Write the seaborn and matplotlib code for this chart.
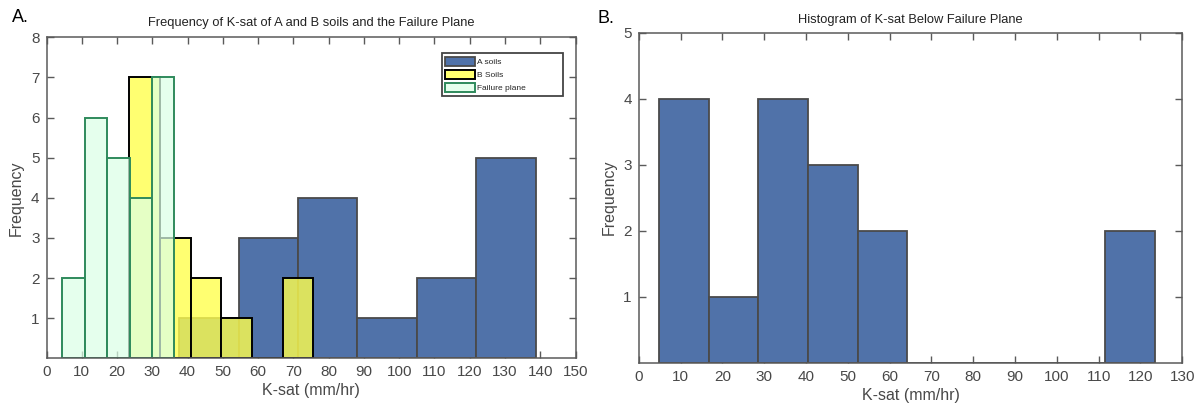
import numpy as np
import pandas as pd
import matplotlib
matplotlib.use("Agg")
import matplotlib.pyplot as plt
import seaborn as sns
from matplotlib.patches import Patch

# ---------------- data ----------------
# Panel A: bin edges (mm/hr) and counts
a_soil_edges = [37.6, 54.45, 71.3, 88.15, 105.0, 121.85, 138.7]
a_soil_counts = [1, 3, 4, 1, 2, 5]
b_soil_edges = [23.5, 32.2, 40.9, 49.6, 58.3, 67.0, 75.7]
b_soil_counts = [7, 3, 2, 1, 0, 2]
fp_edges = [4.5, 10.85, 17.2, 23.55, 29.9, 36.25]
fp_counts = [2, 6, 5, 4, 7]
# Panel B
below_edges = [4.93, 16.78, 28.63, 40.48, 52.33, 64.18, 76.03, 87.88, 99.73, 111.58, 123.43]
below_counts = [4, 1, 4, 3, 2, 0, 0, 0, 0, 2]

series_labels = ["A soils", "B Soils", "Failure plane"]
xticks_a = list(range(0, 151, 10))
yticks_a = list(range(1, 9))
xticks_b = list(range(0, 131, 10))
yticks_b = list(range(1, 6))

# ---------------- style ----------------
sns.set_theme(style="ticks")
plt.rcParams["font.family"] = ["Liberation Sans", "DejaVu Sans"]

BLUE = "#5072a9"
BLUE_EDGE = "#4a4a4a"
YELLOW = (1.0, 1.0, 0.3, 0.8)
GREEN_FACE = (0.86, 1.0, 0.90, 0.72)
GREEN_EDGE = "#2f8a5c"
AX_COL = "#5a5a5a"
TXT_COL = "#484848"


def centers(edges):
    e = np.asarray(edges)
    return (e[:-1] + e[1:]) / 2


def style_axes(ax, xticks, yticks, xmax, ymax):
    ax.set_xlim(0, xmax)
    ax.set_ylim(0, ymax)
    ax.set_xticks(xticks)
    ax.set_yticks(yticks)
    for s in ax.spines.values():
        s.set_visible(True)
        s.set_color(AX_COL)
        s.set_linewidth(1.1)
    ax.tick_params(direction="in", length=5, width=1.0, color=AX_COL,
                   labelcolor=TXT_COL, labelsize=11,
                   top=True, right=True, pad=5)
    ax.set_xlabel("K-sat (mm/hr)", fontsize=11.5, color=TXT_COL, labelpad=3)
    ax.set_ylabel("Frequency", fontsize=11.5, color=TXT_COL, labelpad=5)


fig = plt.figure(figsize=(12.02, 4.08), dpi=100)
ax1 = fig.add_axes([0.0387, 0.1218, 0.4401, 0.7868])
ax2 = fig.add_axes([0.5314, 0.1108, 0.4522, 0.8091])

# Panel A
sns.histplot(x=centers(a_soil_edges), weights=a_soil_counts, bins=a_soil_edges,
             ax=ax1, facecolor=BLUE, edgecolor=BLUE_EDGE, linewidth=1.3)
sns.histplot(x=centers(b_soil_edges), weights=b_soil_counts, bins=b_soil_edges,
             ax=ax1, facecolor=YELLOW, edgecolor="black", linewidth=1.4)
sns.histplot(x=centers(fp_edges), weights=fp_counts, bins=fp_edges,
             ax=ax1, facecolor=GREEN_FACE, edgecolor=GREEN_EDGE, linewidth=1.4)
style_axes(ax1, xticks_a, yticks_a, 150, 8)
ax1.set_title("Frequency of K-sat of A and B soils and the Failure Plane",
              fontsize=9.3, color="#222222", pad=8)

handles = [Patch(facecolor=BLUE, edgecolor=BLUE_EDGE, linewidth=1.3),
           Patch(facecolor=(1.0, 1.0, 0.44), edgecolor="black", linewidth=1.4),
           Patch(facecolor=(0.9, 1.0, 0.93), edgecolor=GREEN_EDGE, linewidth=1.4)]
leg = ax1.legend(handles, series_labels, loc="upper left",
                 bbox_to_anchor=(0.747, 0.95, 0.230, 0.0), mode="expand",
                 fontsize=6.0, frameon=True,
                 fancybox=False, handlelength=3.5, handleheight=1.3,
                 handletextpad=0.25, borderpad=0.45, labelspacing=0.42,
                 borderaxespad=0)
leg.get_frame().set_edgecolor("#444444")
leg.get_frame().set_linewidth(1.3)
leg.get_frame().set_alpha(1)

# Panel B
sns.histplot(x=centers(below_edges), weights=below_counts, bins=below_edges,
             ax=ax2, facecolor=BLUE, edgecolor=BLUE_EDGE, linewidth=1.3)
style_axes(ax2, xticks_b, yticks_b, 130, 5)
ax2.set_title("Histogram of K-sat Below Failure Plane",
              fontsize=9.3, color="#222222", pad=7)

fig.text(0.010, 0.957, "A.", fontsize=13, color="black", va="center", ha="left")
fig.text(0.497, 0.955, "B.", fontsize=13, color="black", va="center", ha="left")

fig.savefig("out.png", dpi=100)
